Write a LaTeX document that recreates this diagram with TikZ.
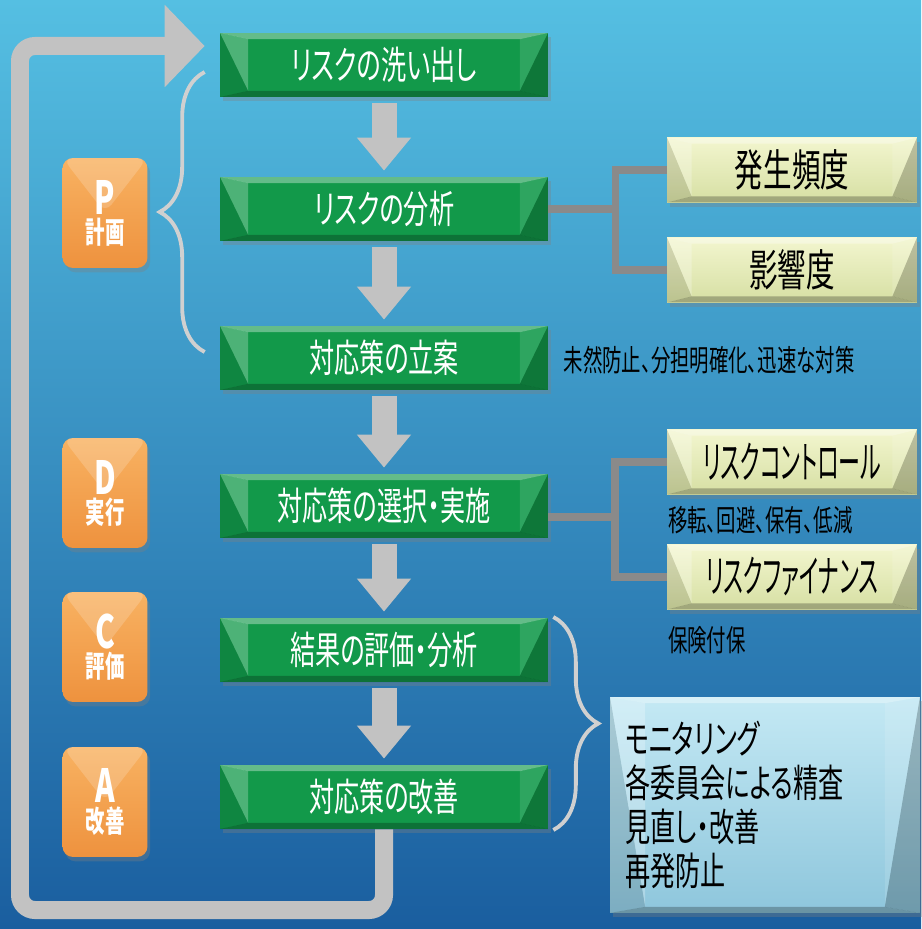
\documentclass[tikz,border=0pt]{standalone}
\usepackage{fontspec}
\usetikzlibrary{calc,shadows,arrows.meta,decorations.pathreplacing}
\newfontfamily\jpf[FakeStretch=0.65,CharacterWidth=AlternateProportional]{Noto Sans CJK JP}
\newfontfamily\jpn[FakeStretch=0.5,CharacterWidth=AlternateProportional]{Noto Sans CJK JP}
\definecolor{bgtop}{HTML}{55BFE2}
\definecolor{bgmid}{HTML}{2F8FC6}
\definecolor{bgbot}{HTML}{1A5E9F}
\definecolor{stepgreen}{HTML}{12994A}
\definecolor{creamtop}{HTML}{F3F6CF}
\definecolor{creambot}{HTML}{D6DFA3}
\definecolor{checktop}{HTML}{C4E9F4}
\definecolor{checkbot}{HTML}{8EC6DC}
\definecolor{orangetop}{HTML}{F8B262}
\definecolor{orangebot}{HTML}{EE923E}
\definecolor{arrowgray}{HTML}{C2C2C2}
\definecolor{linkgray}{HTML}{8A8A8A}
\definecolor{bracegray}{HTML}{D0D0D0}
\tikzset{
    bevel/.style={path picture={
        \path (path picture bounding box.north west) coordinate (bnw)
              (path picture bounding box.north east) coordinate (bne)
              (path picture bounding box.south west) coordinate (bsw)
              (path picture bounding box.south east) coordinate (bse);
        \fill[white,opacity=.35] (bnw) -- (bne) -- ($(bne)+(-#1,-3.5pt)$) -- ($(bnw)+(#1,-3.5pt)$) -- cycle;
        \fill[black,opacity=.25] (bsw) -- (bse) -- ($(bse)+(-#1,3.5pt)$) -- ($(bsw)+(#1,3.5pt)$) -- cycle;
        \fill[white,opacity=.25] (bnw) -- ($(bnw)+(#1,-3.5pt)$) -- ($(bsw)+(#1,3.5pt)$) -- cycle;
        \fill[black,opacity=.12] (bnw) -- ($(bsw)+(#1,3.5pt)$) -- (bsw) -- cycle;
        \fill[white,opacity=.12] (bne) -- ($(bne)+(-#1,-3.5pt)$) -- ($(bse)+(-#1,3.5pt)$) -- cycle;
        \fill[black,opacity=.22] (bne) -- ($(bse)+(-#1,3.5pt)$) -- (bse) -- cycle;
    }},
    boxshadow/.style={drop shadow={shadow xshift=1.5pt,shadow yshift=-2.5pt,opacity=.35}},
    stepbox/.style={fill=stepgreen,minimum width=6.56cm,minimum height=1.28cm,inner sep=0pt,
        text=white,font=\jpf\fontsize{22}{26}\selectfont,bevel=16pt,boxshadow},
    notebox/.style={top color=creamtop,bottom color=creambot,
        minimum width=5cm,minimum height=1.3cm,inner sep=0pt,
        font=\jpf\fontsize{25}{28}\selectfont,bevel=14pt,boxshadow},
    checkbox/.style={top color=checktop,bottom color=checkbot,
        minimum width=6.2cm,minimum height=4.32cm,text width=5.6cm,inner xsep=0.3cm,align=left,
        font=\jpf\fontsize{22}{25}\selectfont,bevel=20pt,boxshadow},
    pdcabox/.style={top color=orangetop,bottom color=orangebot,
        rounded corners=6pt,minimum width=1.7cm,minimum height=2.2cm,inner sep=0pt,
        text=white,align=center,font=\jpf\bfseries,boxshadow,
        path picture={\fill[white,opacity=.18] (path picture bounding box.north west) --
            (path picture bounding box.north east) -- (path picture bounding box.center) -- cycle;}},
    note/.style={inner sep=0pt,font=\jpf\fontsize{17}{19}\selectfont},
    flowarrow/.style={draw=arrowgray,line width=0.5cm,-{Triangle[length=0.66cm,width=1.04cm]},
        shorten <=0.12cm,shorten >=0.12cm},
    looparrow/.style={draw=arrowgray,line width=0.36cm,rounded corners=0.3cm,
        -{Triangle[length=0.8cm,width=1.6cm]}},
    link/.style={draw=linkgray,line width=4pt},
    bracket/.style={draw=bracegray,line width=2.2pt,decorate,decoration={brace,amplitude=0.9cm}},
}
\begin{document}
\begin{tikzpicture}[x=0.02cm,y=-0.02cm]
    \useasboundingbox (0,0) rectangle (921,929);
    \fill[top color=bgtop,middle color=bgmid,bottom color=bgbot] (0,0) rectangle (921,929);

    % PDCA steps
    \foreach \y/\txt [count=\i] in {65/リスクの洗い出し,209/リスクの分析,358/対応策の立案,
            506/対応策の選択・実施,650/結果の評価・分析,797/対応策の改善} {
        \node[stepbox] (s\i) at (384,\y) {\txt};
    }
    \foreach \i [evaluate={\j=int(\i+1)}] in {1,...,5} {
        \draw[flowarrow] (s\i) -- (s\j);
    }

    % feedback loop
    \coordinate (loopcorner) at (20,910);
    \coordinate (loopin) at ($(s1.west)+(-15,-19)$);
    \draw[looparrow] (s6.south) |- (loopcorner) |- (loopin);

    % P D C A
    \foreach \y/\l/\t [count=\i] in {213/P/計画,493/D/実行,647/C/評価,802/A/改善} {
        \node[pdcabox] (q\i) at (105,\y) {{\fontsize{26}{28}\selectfont \l}\\[1pt]{\fontsize{17}{19}\selectfont \t}};
    }
    \draw[bracket] ($(s3.west)+(-15,-6)$) -- ($(s1.west)+(-15,7)$);
    \draw[bracket] ($(s5.east)+(5,-33)$) -- ($(s6.east)+(5,33)$);

    % analysis
    \node[notebox] (freq) at (792,170) {発生頻度};
    \node[notebox] (impact) at (792,270) {影響度};
    \coordinate (fork1) at ($(s2.east)+(67,0)$);
    \draw[link] (s2.east) -- (fork1);
    \draw[link] (freq.west) -| (fork1) |- (impact.west);
    \node[note,anchor=west] (aims) at ($(s3.east)+(15,2)$) {未然防止、分担明確化、迅速な対策};

    % selection
    \node[notebox,font=\jpn\fontsize{25}{28}\selectfont] (control) at (792,462) {リスクコントロール};
    \node[notebox,font=\jpn\fontsize{25}{28}\selectfont] (finance) at (792,577) {リスクファイナンス};
    \coordinate (fork2) at (615,517);
    \draw[link] (s4.east |- fork2) -- (fork2);
    \draw[link] (control.west) -| (fork2) |- (finance.west);
    \node[note,anchor=west] (ctrlnote) at ($(control.south west)+(1,25)$) {移転、回避、保有、低減};
    \node[note,anchor=west] (finnote) at ($(finance.south west)+(1,30)$) {保険付保};

    % check and act
    \node[checkbox] (check) at (765,805) {モニタリング\\各委員会による精査\\見直し・改善\\再発防止};
\end{tikzpicture}
\end{document}
